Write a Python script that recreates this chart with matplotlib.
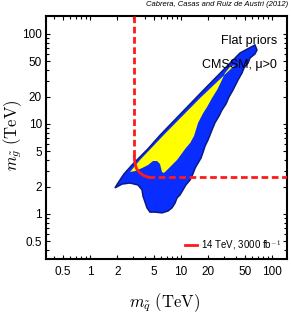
import matplotlib
matplotlib.use("Agg")
import matplotlib.pyplot as plt
from matplotlib.ticker import FixedLocator, NullFormatter, FixedFormatter
import numpy as np

plt.rcParams['font.family'] = ['Liberation Sans', 'DejaVu Sans']
plt.rcParams['mathtext.fontset'] = 'cm'

# 95% credible region (blue), TeV
blue_mq = [65.0, 68.4, 65.0, 57.3, 54.5, 49.2, 46.8, 42.3, 40.2, 37.3, 33.7, 31.2, 28.2, 26.2,
           23.6, 21.9, 19.8, 18.4, 17.5, 16.6, 15.4, 14.3, 13.5, 12.6, 11.3, 10.5, 9.75, 9.04,
           8.59, 7.96, 7.20, 6.18, 5.18, 4.56, 4.23, 4.02, 3.82, 3.73, 3.37, 2.75, 2.25, 1.88,
           2.03, 2.36, 2.89, 4.34, 5.88, 18.4, 44.5]
blue_mg = [75.5, 66.4, 60.0, 54.1, 47.6, 41.9, 36.9, 30.8, 27.8, 23.9, 20.0, 16.7, 14.3, 12.3,
           10.3, 8.58, 6.64, 5.70, 4.89, 4.19, 3.69, 3.24, 2.78, 2.39, 2.10, 1.85, 1.63, 1.51,
           1.32, 1.17, 1.08, 1.03, 1.05, 1.05, 1.17, 1.36, 1.58, 1.85, 2.10, 2.21, 2.15, 1.95,
           2.21, 2.78, 3.50, 5.30, 7.50, 24.8, 61.5]

# 68% credible region (yellow), TeV
yellow_mq = [39.2, 16.2, 6.67, 3.54, 2.75, 3.12, 3.73, 4.34, 4.92, 5.45, 5.88, 6.18, 6.50,
             7.02, 7.96, 9.04, 10.3, 11.3, 12.6, 13.9, 15.4, 17.5, 19.3, 21.9, 24.9, 27.5,
             30.5, 34.5]
yellow_mg = [45.3, 19.4, 7.80, 3.98, 2.93, 3.00, 3.24, 3.50, 3.88, 3.88, 3.59, 2.93, 2.86,
             3.08, 3.50, 3.98, 4.76, 5.41, 6.15, 7.36, 10.3, 13.2, 15.4, 19.4, 23.9, 29.3,
             36.9, 43.0]

# 14 TeV, 3000 fb^-1 reach
reach_mq = [3.07, 3.07, 3.11, 3.24, 3.50, 3.87, 4.37, 160.0]
reach_mg = [160.0, 4.33, 3.69, 3.20, 2.89, 2.68, 2.56, 2.56]

major_ticks = [0.5, 1, 2, 5, 10, 20, 50, 100]
major_labels = ['0.5', '1', '2', '5', '10', '20', '50', '100']
minor_ticks = [0.4, 0.6, 0.7, 0.8, 0.9, 3, 4, 6, 7, 8, 9, 30, 40, 60, 70, 80, 90]

fig = plt.figure(figsize=(2.91, 3.13), dpi=100)
ax = fig.add_axes([0.1581, 0.1735, 0.8282, 0.7754])
ax.set_xscale('log')
ax.set_yscale('log')

ax.fill(blue_mq, blue_mg, facecolor='#0a2dff', edgecolor='#0a1a80', linewidth=1.1, zorder=1)
ax.fill(yellow_mq, yellow_mg, facecolor='#ffff00', edgecolor='none', zorder=2)

red = '#ff1a1a'
ax.plot(reach_mq[0:2], reach_mg[0:2], color=red, lw=2.0, dashes=(2.4, 1.3), zorder=3)
ax.plot(reach_mq[1:7], reach_mg[1:7], color=red, lw=2.0, zorder=3)
ax.plot(reach_mq[6:8], reach_mg[6:8], color=red, lw=2.0, dashes=(2.4, 1.3), zorder=3)
ax.plot([], [], color=red, lw=2.0, label='14 TeV, 3000 fb$^{-1}$')

ax.set_xlim(0.3284, 146.2)
ax.set_ylim(0.3187, 158.5)

for axis in (ax.xaxis, ax.yaxis):
    axis.set_major_locator(FixedLocator(major_ticks))
    axis.set_major_formatter(FixedFormatter(major_labels))
    axis.set_minor_locator(FixedLocator(minor_ticks))
    axis.set_minor_formatter(NullFormatter())

ax.tick_params(which='both', direction='in', top=True, right=True, width=0.8, labelsize=8.5)
ax.tick_params(which='major', length=3.0, pad=3)
ax.tick_params(which='minor', length=2.5)
ax.tick_params(axis='x', which='major', pad=5)
for s in ax.spines.values():
    s.set_linewidth(1.5)

ax.text(0.958, 0.898, 'Flat priors', transform=ax.transAxes, ha='right', va='center', fontsize=9)
ax.text(0.958, 0.798, 'CMSSM, \u03bc>0', transform=ax.transAxes, ha='right', va='center', fontsize=9)

leg = ax.legend(loc='lower right', frameon=False, fontsize=7, handlelength=1.3,
                handletextpad=0.4, borderaxespad=0.3, borderpad=0.3)

fig.text(0.99, 0.985, 'Cabrera, Casas and Ruiz de Austri (2012)', ha='right', va='center',
         fontsize=5.5, style='italic')

fig.text(165/291, 1 - 303/313, r'$m_{\tilde{q}}\ (\mathrm{TeV})$', ha='center', va='center', fontsize=12)
fig.text(13/291, 1 - 135/313, r'$m_{\tilde{g}}\ (\mathrm{TeV})$', ha='center', va='center',
         fontsize=12, rotation=90)

fig.savefig('out.png', dpi=100)
